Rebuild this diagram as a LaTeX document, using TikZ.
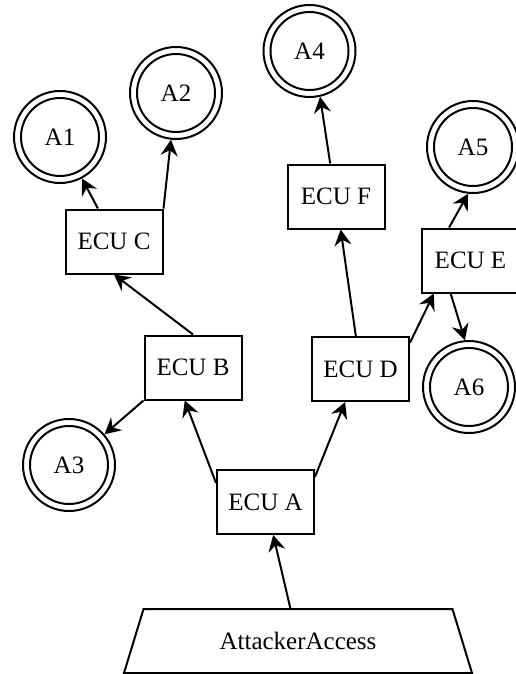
\documentclass[tikz,border=0pt]{standalone}
\usepackage{fontspec}
\setmainfont{Liberation Serif}
\usetikzlibrary{shapes.geometric,arrows.meta}
\tikzset{
  lbl/.style={font=\fontsize{25}{30}\selectfont},
  ecu/.style={lbl, draw, line width=2pt, minimum width=97pt, minimum height=64pt, inner sep=0pt},
  acc/.style={lbl, circle, draw, line width=2pt, minimum size=92pt, inner sep=0pt,
    path picture={\draw[line width=2pt] (path picture bounding box.center) circle[radius=39pt];}},
  entry/.style={lbl, trapezium, trapezium angle=42, trapezium stretches body, draw, line width=2pt,
    minimum height=64pt, minimum width=348pt, inner sep=0pt},
  conn/.style={line width=2pt, arrows={-Stealth[length=16pt, width=17pt, inset=5.5pt]}}
}
\begin{document}
\begin{tikzpicture}[x=1pt,y=-1pt]
\useasboundingbox (0,0) rectangle (515,674);
% nodes
\node[entry] (att) at (298,641) {AttackerAccess};
\node[ecu] (A) at (265.5,502) {ECU A};
\node[ecu] (B) at (193,367.5) {ECU B};
\node[ecu] (C) at (114,241.5) {ECU C};
\node[ecu] (D) at (360.5,369) {ECU D};
\node[ecu] (F) at (336,196.5) {ECU F};
\node[ecu] (E) at (470.5,260.5) {ECU E};
\node[acc] (A1) at (60,137) {A1};
\node[acc] (A2) at (176,93) {A2};
\node[acc] (A3) at (69,465) {A3};
\node[acc] (A4) at (309.5,51) {A4};
\node[acc] (A5) at (473,147) {A5};
\node[acc] (A6) at (469,387) {A6};
% connectors
\draw[conn] (att) -- (A);
\draw[conn] (A.159) -- (B.256);
\draw[conn] (A.27) -- (D.245);
\draw[conn] (B.south west) -- (A3);
\draw[conn] (B.north) -- (C.south);
\draw[conn] (C.116) -- (A1);
\draw[conn] (C.north east) -- (A2);
\draw[conn] (D) -- (F);
\draw[conn] (D.28) -- (E.222);
\draw[conn] (E.123) -- (A5.264);
\draw[conn] (E.239) -- (A6.95);
\draw[conn] (F.100) -- (A4.283);
\end{tikzpicture}
\end{document}
